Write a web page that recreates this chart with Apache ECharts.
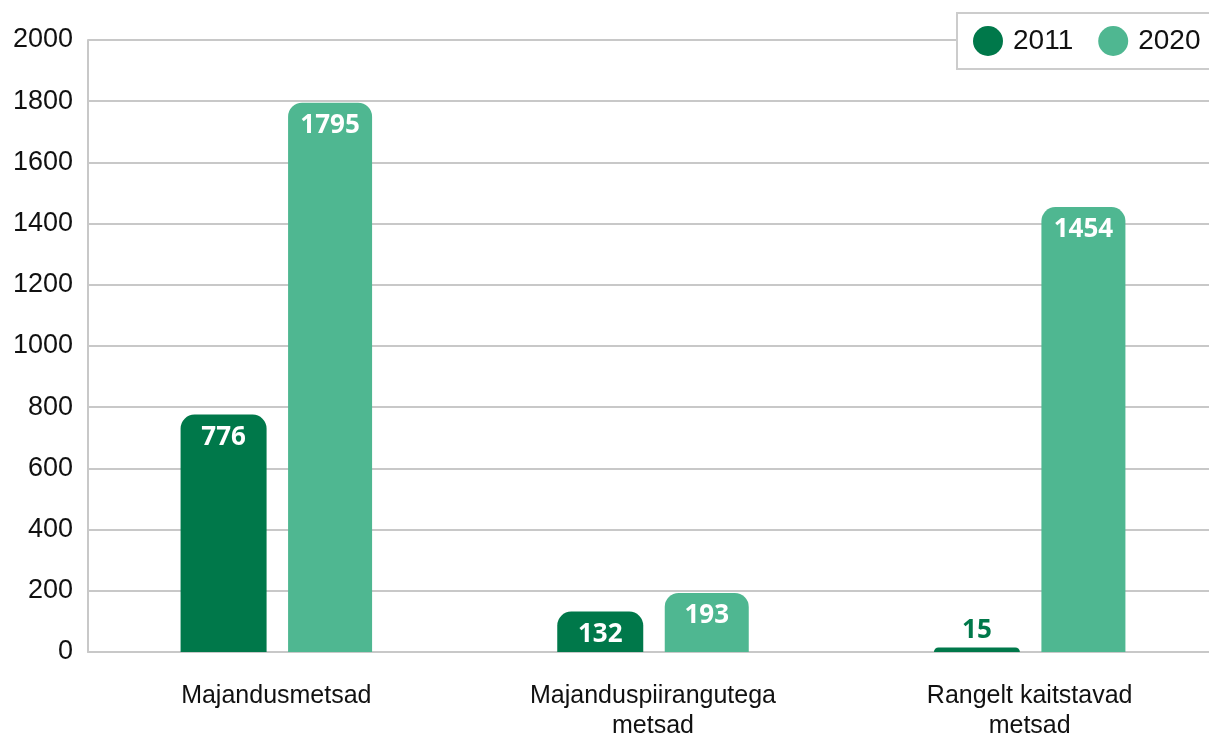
<!DOCTYPE html>
<html>
<head>
<meta charset="utf-8">
<script src="https://cdn.jsdelivr.net/npm/echarts@6/dist/echarts.min.js"></script>
<style>
  body { margin: 0; background: #fff; }
  #chart { width: 1209px; height: 738px; }
</style>
</head>
<body>
<div id="chart"></div>
<script>
  var categories = ['Majandusmetsad', 'Majanduspiirangutega\nmetsad', 'Rangelt kaitstavad\nmetsad'];
  var values2011 = [776, 132, 15];
  var values2020 = [1795, 193, 1454];
  var dark = '#00784a';
  var light = '#4fb791';

  // small bars get their label above the bar
  function toData(arr, color) {
    return arr.map(function (v) {
      if (v < 60) {
        return { value: v, label: { position: 'top', color: color, distance: 4 } };
      }
      return v;
    });
  }

  var myChart = echarts.init(document.getElementById('chart'));
  myChart.setOption({
    animation: false,
    grid: { left: 88, width: 1130, top: 40, bottom: 86, outerBoundsMode: 'none', containLabel: false },
    legend: {
      orient: 'horizontal',
      left: 957, top: 13, width: 400,
      icon: 'circle',
      itemWidth: 30, itemHeight: 30, itemGap: 25,
      padding: [13, 16, 13, 16],
      borderColor: '#cccccc', borderWidth: 2,
      backgroundColor: '#fff',
      textStyle: { fontFamily: 'Liberation Sans', fontSize: 28, color: '#111', padding: [0, 0, 0, 5] },
      data: ['2011', '2020']
    },
    xAxis: {
      type: 'category',
      data: categories,
      axisLine: { lineStyle: { color: '#c8c8c8', width: 2 } },
      axisTick: { show: false },
      axisLabel: { fontFamily: 'Liberation Sans', fontSize: 25, color: '#111', margin: 29, lineHeight: 30 }
    },
    yAxis: {
      type: 'value',
      min: 0, max: 2000, interval: 200,
      axisLine: { show: true, lineStyle: { color: '#c8c8c8', width: 2 } },
      axisTick: { show: false },
      splitLine: { lineStyle: { color: '#c8c8c8', width: 2 } },
      axisLabel: {
        fontFamily: 'Liberation Sans', fontSize: 27, color: '#111', margin: 15,
        formatter: function (v) { return String(v); }
      }
    },
    series: [{
      name: '2011',
      type: 'bar',
      barWidth: 86,
      barGap: '25%',
      data: toData(values2011, dark),
      itemStyle: { color: dark, borderRadius: [14, 14, 0, 0] },
      label: {
        show: true, position: 'insideTop', distance: 10,
        color: '#fff', fontFamily: 'Noto Sans', fontWeight: 'bold', fontSize: 26
      }
    }, {
      name: '2020',
      type: 'bar',
      barWidth: 84,
      data: toData(values2020, light),
      itemStyle: { color: light, borderRadius: [14, 14, 0, 0] },
      label: {
        show: true, position: 'insideTop', distance: 10,
        color: '#fff', fontFamily: 'Noto Sans', fontWeight: 'bold', fontSize: 26
      }
    }]
  });
</script>
</body>
</html>
